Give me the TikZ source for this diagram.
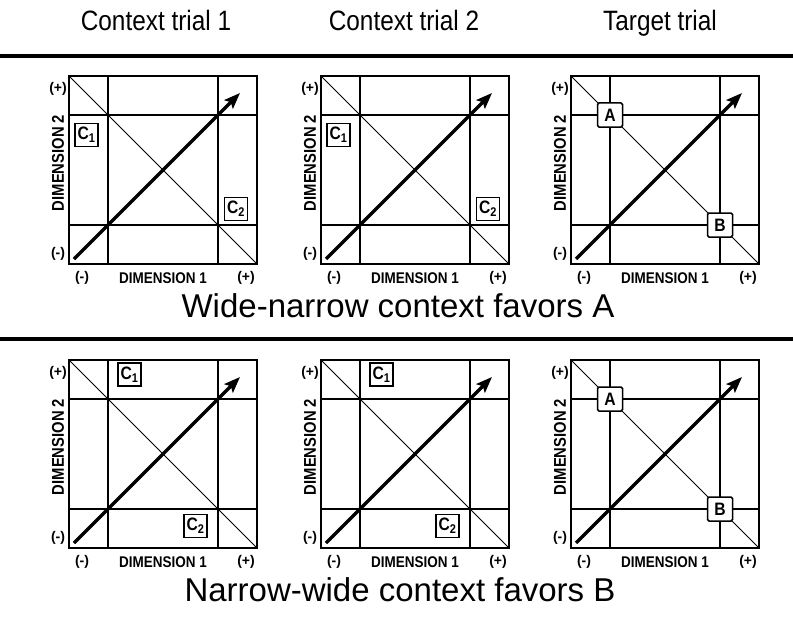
\documentclass[tikz,border=0pt]{standalone}
\usepackage{fontspec}
\setmainfont{Liberation Sans}
\newfontfamily\narrowsans[FakeStretch=0.87]{Liberation Sans}
\usetikzlibrary{arrows.meta}

% One stimulus space: frame, two pairs of grid lines, the anti-diagonal
% of equal overall size, and the arrow along the main diagonal.
\newcommand{\dimpanel}[3]{%
  \begin{scope}[shift={(#1,#2)}]
    \draw[gridline] (39,0) -- (39,188) (149,0) -- (149,188)
                    (0,39) -- (188,39) (0,149) -- (188,149);
    \draw[diagline] (0,0) -- (188,188);
    \draw[frameline] (0,0) rectangle (188,188);
    \coordinate (#3-s) at (5,183);
    \coordinate (#3-t) at (171,17);
    \draw[trend] (#3-s) -- (#3-t);
    \node[tick] (#3-yp) at (-11,13) {(+)};
    \node[tick] (#3-ym) at (-11,178) {(-)};
    \node[axislabel, font=\narrowsans\fontsize{17}{17}\selectfont\bfseries,
          rotate=90] (#3-y) at (-11,87) {DIMENSION 2};
    \node[tick] (#3-xm) at (13,202) {(-)};
    \node[axislabel] (#3-x) at (94,202) {DIMENSION 1};
    \node[tick] (#3-xp) at (177,202) {(+)};
  \end{scope}}

\begin{document}
\begin{tikzpicture}[x=1pt, y=-1pt,
  frameline/.style={line width=1.5pt},
  gridline/.style={line width=1.2pt},
  diagline/.style={line width=0.9pt},
  trend/.style={line width=3.4pt, -{Stealth[length=16pt, width=12pt, inset=3pt]}},
  tick/.style={font=\fontsize{14}{14}\selectfont\bfseries, inner sep=0pt},
  axislabel/.style={font=\narrowsans\fontsize{15.5}{15.5}\selectfont\bfseries, inner sep=0pt},
  cbox/.style={draw, line width=1.3pt, fill=white, minimum width=23pt,
    minimum height=23pt, inner sep=0pt,
    font=\narrowsans\fontsize{18}{18}\selectfont\bfseries},
  abbox/.style={draw, line width=1.5pt, fill=white, rounded corners=1.5pt,
    minimum width=25pt, minimum height=24pt, inner sep=0pt,
    font=\narrowsans\fontsize{18}{18}\selectfont\bfseries},
  header/.style={font=\narrowsans\fontsize{28}{28}\selectfont, inner sep=0pt, anchor=base},
  caption/.style={font=\fontsize{33}{33}\selectfont, inner sep=0pt},
  rule/.style={line width=3.5pt}
]
\useasboundingbox (0,0) rectangle (793,618);

% column headings
\node[header] (h1) at (156,31) {Context trial 1};
\node[header] (h2) at (404,31) {Context trial 2};
\node[header] (h3) at (660,31) {Target trial};
\draw[rule] (0,56) -- (793,56);

% wide-narrow condition
\dimpanel{69}{76}{a1}
\dimpanel{321}{76}{a2}
\dimpanel{571}{76}{a3}
\node[cbox] (a1c1) at (86.5,135) {C\textsubscript{1}};
\node[cbox] (a1c2) at (236,209) {C\textsubscript{2}};
\node[cbox] (a2c1) at (338.5,135) {C\textsubscript{1}};
\node[cbox] (a2c2) at (488,209) {C\textsubscript{2}};
\node[abbox] (a3A) at (610,115) {A};
\node[abbox] (a3B) at (720,225) {B};
\node[caption] (cap1) at (398,306) {Wide-narrow context favors A};
\draw[rule] (0,339) -- (793,339);

% narrow-wide condition
\dimpanel{69}{360}{b1}
\dimpanel{321}{360}{b2}
\dimpanel{571}{360}{b3}
\node[cbox] (b1c1) at (129.5,374.5) {C\textsubscript{1}};
\node[cbox] (b1c2) at (195.5,526) {C\textsubscript{2}};
\node[cbox] (b2c1) at (381.5,374.5) {C\textsubscript{1}};
\node[cbox] (b2c2) at (447.5,526) {C\textsubscript{2}};
\node[abbox] (b3A) at (610,399) {A};
\node[abbox] (b3B) at (720,509) {B};
\node[caption] (cap2) at (400,590) {Narrow-wide context favors B};
\end{tikzpicture}
\end{document}
